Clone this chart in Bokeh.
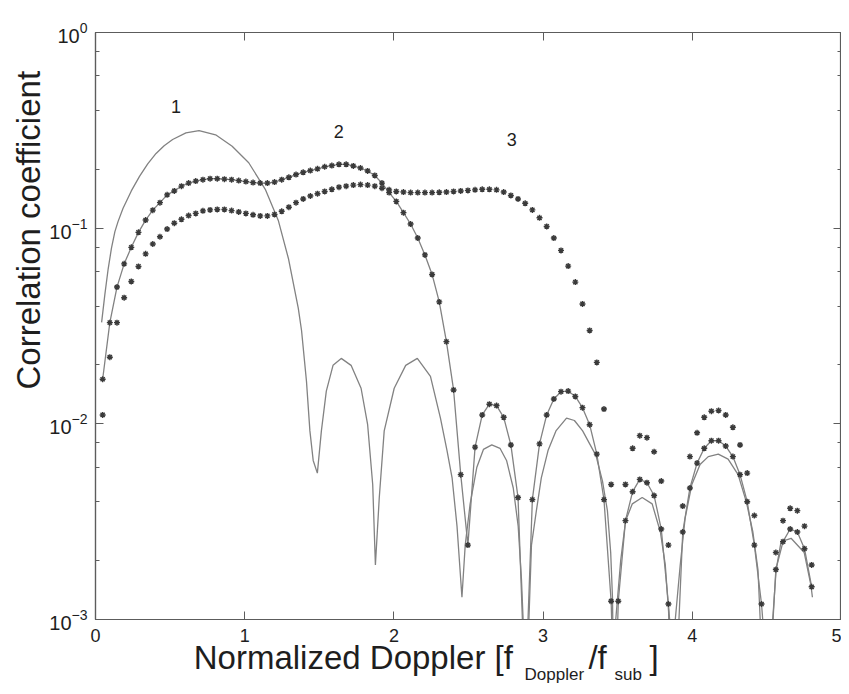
import math
from bokeh.plotting import figure
from bokeh.models import (Range1d, LinearAxis, LogAxis, FixedTicker, LogTicker,
                          CustomJSTickFormatter, Label, Title)
from bokeh.embed import file_html
from bokeh.resources import INLINE

# ---------------- data ----------------
X_TICKS = [0, 1, 2, 3, 4, 5]

X_GRID = [0.048, 0.096, 0.144, 0.192, 0.24, 0.288, 0.336, 0.384, 0.432, 0.48,
          0.528, 0.576, 0.624, 0.672, 0.72, 0.768, 0.816, 0.864, 0.912, 0.96,
          1.008, 1.056, 1.104, 1.152, 1.2, 1.248, 1.296, 1.344, 1.392, 1.44,
          1.488, 1.536, 1.584, 1.632, 1.68, 1.728, 1.776, 1.824, 1.872, 1.92,
          1.968, 2.016, 2.064, 2.112, 2.16, 2.208, 2.256, 2.304, 2.352, 2.4,
          2.448, 2.496, 2.544, 2.592, 2.64, 2.688, 2.736, 2.784, 2.832, 2.88,
          2.928, 2.976, 3.024, 3.072, 3.12, 3.168, 3.216, 3.264, 3.312, 3.36,
          3.408, 3.456, 3.504, 3.552, 3.6, 3.648, 3.696, 3.744, 3.792, 3.84,
          3.888, 3.936, 3.984, 4.032, 4.08, 4.128, 4.176, 4.224, 4.272, 4.32,
          4.368, 4.416, 4.464, 4.512, 4.56, 4.608, 4.656, 4.704, 4.752, 4.8]

# curve 2: markers on a line
C2 = [0.0169, 0.0329, 0.050, 0.0657, 0.0798, 0.0952, 0.110, 0.1236, 0.135, 0.148,
      0.155, 0.164, 0.170, 0.174, 0.177, 0.179, 0.179, 0.178, 0.177, 0.175,
      0.173, 0.171, 0.170, 0.170, 0.172, 0.177, 0.182, 0.188, 0.193, 0.197,
      0.201, 0.206, 0.209, 0.212, 0.212, 0.208, 0.203, 0.196, 0.186, 0.170,
      0.152, 0.137, 0.120, 0.105, 0.089, 0.073, 0.058, 0.042, 0.0263, 0.0149,
      0.0055, 0.0024, 0.0076, 0.0111, 0.0126, 0.0124, 0.0108, 0.0078, 0.0042, 0.0004,
      0.0041, 0.0079, 0.0111, 0.0134, 0.0146, 0.0147, 0.0138, 0.0121, 0.0099, 0.0070,
      0.0041, 0.00124, 0.00124, 0.0032, 0.0045, 0.0052, 0.0050, 0.0043, 0.0029, 0.0012,
      0.0004, 0.0028, 0.0047, 0.0063, 0.0075, 0.0082, 0.0082, 0.0077, 0.0068, 0.0055,
      0.0040, 0.0024, 0.0012, 0.0004, 0.0018, 0.0025, 0.0029, 0.0028, 0.0023, 0.00147]
C2_NULL_X = [3.48]
C2_NULL_Y = [0.0003]

# curve 3: markers only
C3 = [0.0111, 0.0219, 0.0329, 0.0441, 0.0534, 0.0637, 0.0739, 0.083, 0.0904, 0.099,
      0.106, 0.111, 0.116, 0.119, 0.1226, 0.124, 0.1246, 0.1246, 0.123, 0.121,
      0.119, 0.117, 0.1155, 0.1155, 0.1175, 0.122, 0.128, 0.135, 0.141, 0.146,
      0.150, 0.154, 0.158, 0.162, 0.164, 0.166, 0.167, 0.166, 0.164, 0.160,
      0.157, 0.154, 0.153, 0.152, 0.152, 0.152, 0.152, 0.1525, 0.153, 0.154,
      0.155, 0.156, 0.157, 0.158, 0.158, 0.157, 0.153, 0.147, 0.141, 0.134,
      0.124, 0.113, 0.102, 0.089, 0.077, 0.064, 0.053, 0.041, 0.030, 0.0206,
      0.0119, 0.0049, 0.0004, 0.0049, 0.0075, 0.0087, 0.0085, 0.0072, 0.0051, 0.0024,
      0.0004, 0.0038, 0.0068, 0.0090, 0.0108, 0.0116, 0.0117, 0.0111, 0.0096, 0.0078,
      0.0056, 0.0034, 0.0004, 0.0004, 0.0022, 0.0032, 0.0037, 0.0036, 0.0030, 0.0019]

# curve 1: solid line
C1_X = [0.041, 0.063, 0.085, 0.107, 0.130, 0.151, 0.184, 0.240, 0.295, 0.350,
        0.406, 0.460, 0.517, 0.606,
        0.694, 0.805, 0.916, 1.027, 1.138, 1.226, 1.293, 1.359, 1.381, 1.414,
        1.437, 1.459, 1.487, 1.514, 1.547, 1.592, 1.647, 1.713, 1.780, 1.824,
        1.858, 1.876, 1.902, 1.935, 2.002, 2.079, 2.157, 2.245, 2.312, 2.356,
        2.390, 2.423, 2.456, 2.478, 2.511, 2.556, 2.600, 2.656, 2.711, 2.755,
        2.800, 2.833, 2.855, 2.866, 2.885, 2.905, 2.922, 2.955, 2.988, 3.033,
        3.086, 3.157, 3.210, 3.265, 3.354, 3.398, 3.431, 3.453, 3.465, 3.476,
        3.487, 3.520, 3.553, 3.598, 3.664, 3.731, 3.786, 3.819, 3.841, 3.862,
        3.886, 3.919, 3.952, 3.997, 4.052, 4.107, 4.174, 4.240, 4.307, 4.362,
        4.406, 4.440, 4.455, 4.495, 4.539, 4.562, 4.595, 4.662, 4.750, 4.795, 4.805]
C1_Y = [0.033, 0.046, 0.062, 0.079, 0.096, 0.108, 0.126, 0.155, 0.184, 0.213,
        0.241, 0.264, 0.284, 0.307,
        0.315, 0.300, 0.262, 0.216, 0.158, 0.109, 0.070, 0.039, 0.030, 0.0165,
        0.0092, 0.0065, 0.0056, 0.0092, 0.0147, 0.0199, 0.0216, 0.0199, 0.0152, 0.0099,
        0.0049, 0.0019, 0.0042, 0.0092, 0.0152, 0.0199, 0.0216, 0.0175, 0.0107, 0.0073,
        0.0053, 0.0030, 0.0013, 0.0024, 0.0039, 0.0060, 0.0074, 0.0078, 0.0075, 0.0065,
        0.0047, 0.0030, 0.0016, 0.0010, 0.0003, 0.0010, 0.0024, 0.0036, 0.0053, 0.0073,
        0.0092, 0.0107, 0.0104, 0.0092, 0.0069, 0.0051, 0.0036, 0.0022, 0.0013, 0.0003,
        0.0010, 0.0020, 0.0032, 0.0039, 0.0042, 0.0039, 0.0028, 0.0019, 0.0011, 0.0003,
        0.0010, 0.0019, 0.0033, 0.0049, 0.0062, 0.0068, 0.0070, 0.0066, 0.0055, 0.0040,
        0.0028, 0.0018, 0.0010, 0.0003, 0.0010, 0.0018, 0.0025, 0.0026, 0.0022, 0.0015, 0.0013]

CURVE_NAMES = ["1", "2", "3"]
CURVE_NAME_X = [0.54, 1.63, 2.79]
CURVE_NAME_Y = [0.42, 0.313, 0.284]

# x-axis title, split into normal-size parts and subscripts
TITLE_TEXT = ["Normalized Doppler [f", "/f", "]"]
TITLE_POS = [1.728, 3.365, 3.744]
SUB_TEXT = ["Doppler", "sub"]
SUB_POS = [3.075, 3.570]
Y_TITLE = "Correlation coefficient"

# ---------------- styles ----------------
FONT = "Liberation Sans"
AX = "#5c5c5c"
LINE = "#828282"
MARK = "#3a3a3a"
TXT = "#1e1e1e"

p = figure(width=841, height=686, x_range=Range1d(0, 5), y_range=Range1d(1e-3, 1),
           y_axis_type="log", output_backend="svg", toolbar_location=None,
           min_border_left=95, min_border_right=0, min_border_top=32,
           min_border_bottom=60, background_fill_color="white",
           border_fill_color="white")
p.grid.visible = False
p.outline_line_color = AX
p.outline_line_width = 1.2

empty = CustomJSTickFormatter(code="return ''")
pick = """
let best = 0, bd = 1e9;
for (let i = 0; i < t.length; i++) { const d = Math.abs(t[i] - tick); if (d < bd) { bd = d; best = i; } }
return s[best];
"""

top_axis = LinearAxis()
right_axis = LogAxis()
p.add_layout(top_axis, "above")
p.add_layout(right_axis, "right")
bottom_axis = p.below[0]
left_axis = p.left[0]

for ax in (bottom_axis, top_axis):
    ax.ticker = FixedTicker(ticks=X_TICKS)
    ax.minor_tick_line_color = None
for ax in (left_axis, right_axis):
    ax.ticker = LogTicker()
    ax.minor_tick_in = 4
    ax.minor_tick_out = 0
    ax.minor_tick_line_color = AX
for ax in (bottom_axis, top_axis, left_axis, right_axis):
    ax.axis_line_color = AX
    ax.axis_line_width = 1.2
    ax.major_tick_line_color = AX
    ax.major_tick_in = 8
    ax.major_tick_out = 0
    ax.axis_label = None
for ax in (top_axis, right_axis):
    ax.formatter = empty
    ax.major_label_standoff = 0

bottom_axis.major_label_text_font = FONT
bottom_axis.major_label_text_font_size = "18px"
bottom_axis.major_label_text_color = TXT
bottom_axis.major_label_standoff = 9

left_axis.major_label_text_font = FONT
left_axis.major_label_text_font_size = "20px"
left_axis.major_label_text_color = TXT
left_axis.major_label_standoff = 8

# x title: two label-only axes below the tick labels
title_axis = LinearAxis(ticker=FixedTicker(ticks=TITLE_POS),
                        formatter=CustomJSTickFormatter(args=dict(t=TITLE_POS, s=TITLE_TEXT), code=pick),
                        axis_line_color=None, major_tick_line_color=None,
                        minor_tick_line_color=None, major_label_standoff=-12,
                        major_label_text_font=FONT, major_label_text_font_size="33px",
                        major_label_text_color=TXT)
sub_axis = LinearAxis(ticker=FixedTicker(ticks=SUB_POS),
                      formatter=CustomJSTickFormatter(args=dict(t=SUB_POS, s=SUB_TEXT), code=pick),
                      axis_line_color=None, major_tick_line_color=None,
                      minor_tick_line_color=None, major_label_standoff=-20,
                      major_label_text_font=FONT, major_label_text_font_size="17px",
                      major_label_text_color=TXT)
p.add_layout(title_axis, "below")
p.add_layout(sub_axis, "below")

# y title
p.add_layout(Title(text=Y_TITLE, align="left", offset=230, standoff=0,
                   text_font=FONT, text_font_size="33px", text_font_style="normal",
                   text_color=TXT), "left")

# ---------------- curves ----------------
c2_line = sorted(list(zip(X_GRID, C2)) + list(zip(C2_NULL_X, C2_NULL_Y)))
p.line(C1_X, C1_Y, line_color=LINE, line_width=1.3)
p.line([a for a, b in c2_line], [b for a, b in c2_line], line_color=LINE, line_width=1.3)
p.scatter(X_GRID, C2, marker="asterisk", size=6, line_color=MARK, line_width=1.4)
p.scatter(X_GRID, C3, marker="asterisk", size=6, line_color=MARK, line_width=1.4)

for name, x, y in zip(CURVE_NAMES, CURVE_NAME_X, CURVE_NAME_Y):
    p.add_layout(Label(x=x, y=y, text=name, text_font=FONT, text_font_size="18px",
                       text_color=TXT, text_align="center", text_baseline="middle"))

open("out.html", "w").write(file_html(p, INLINE))
